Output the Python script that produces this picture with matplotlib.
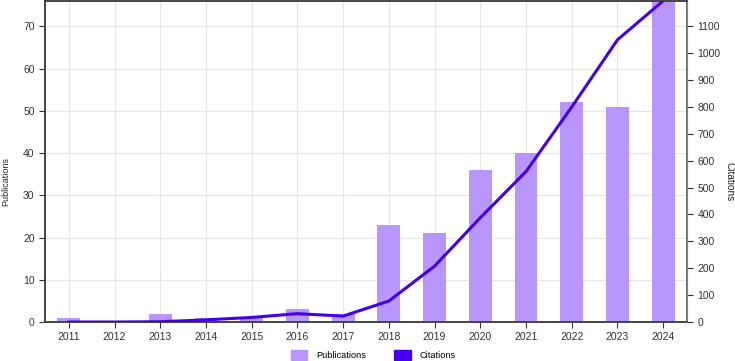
import matplotlib.pyplot as plt
from matplotlib.patches import Patch

plt.rcParams['font.family'] = ['Liberation Sans', 'DejaVu Sans']

years = ['2011', '2012', '2013', '2014', '2015', '2016', '2017',
         '2018', '2019', '2020', '2021', '2022', '2023', '2024']
publications = [1, 0, 2, 1, 1, 3, 2, 23, 21, 36, 40, 52, 51, 76]
citations = [0, 0, 1, 8, 17, 31, 22, 78, 208, 388, 560, 800, 1050, 1195]

bar_color = '#b996fb'
line_color = '#4400ee'

fig = plt.figure(figsize=(7.35, 3.61), dpi=100)
ax = fig.add_axes([45 / 735, 1 - 322 / 361, 642 / 735, 321 / 361])
ax2 = ax.twinx()

x = list(range(len(years)))
ax.bar(x, publications, width=0.5, color=bar_color, zorder=2)
ax2.plot(x, citations, color=line_color, linewidth=2.2, zorder=3)

ax.set_xlim(-0.52, len(years) - 0.48)
ax.set_ylim(0, 76)
ax2.set_ylim(0, 76 * 1100 / 70)
ax.set_xticks(x)
ax.set_xticklabels(years)
ax.set_yticks(range(0, 71, 10))
ax2.set_yticks(range(0, 1101, 100))

ax.grid(True, color='#e6e6e6', linewidth=0.8, zorder=0)
ax.set_axisbelow(True)

for a in (ax, ax2):
    a.tick_params(labelsize=7.5, colors='#333333', length=4, width=0.8)
    for s in a.spines.values():
        s.set_color('#444444')
        s.set_linewidth(1.2)
ax2.spines['right'].set_color('#888888')
ax2.spines['right'].set_linewidth(0.8)

ax.set_ylabel('Publications', fontsize=6.5, color='#222222', va='center')
ax.yaxis.set_label_coords(-0.061, 0.436)
ax2.set_ylabel('Citations', fontsize=7.2, color='#222222', rotation=270, va='center')
ax2.yaxis.set_label_coords(1.066, 0.436)

handles = [Patch(color=bar_color, label='Publications'),
           Patch(color=line_color, label='Citations')]
fig.legend(handles=handles, loc='lower center', bbox_to_anchor=(0.508, -0.02), ncol=2,
           frameon=False, fontsize=6.6, handlelength=1.8, handleheight=1.2,
           columnspacing=3.0, handletextpad=1.0)

fig.savefig('out.png', dpi=100)
